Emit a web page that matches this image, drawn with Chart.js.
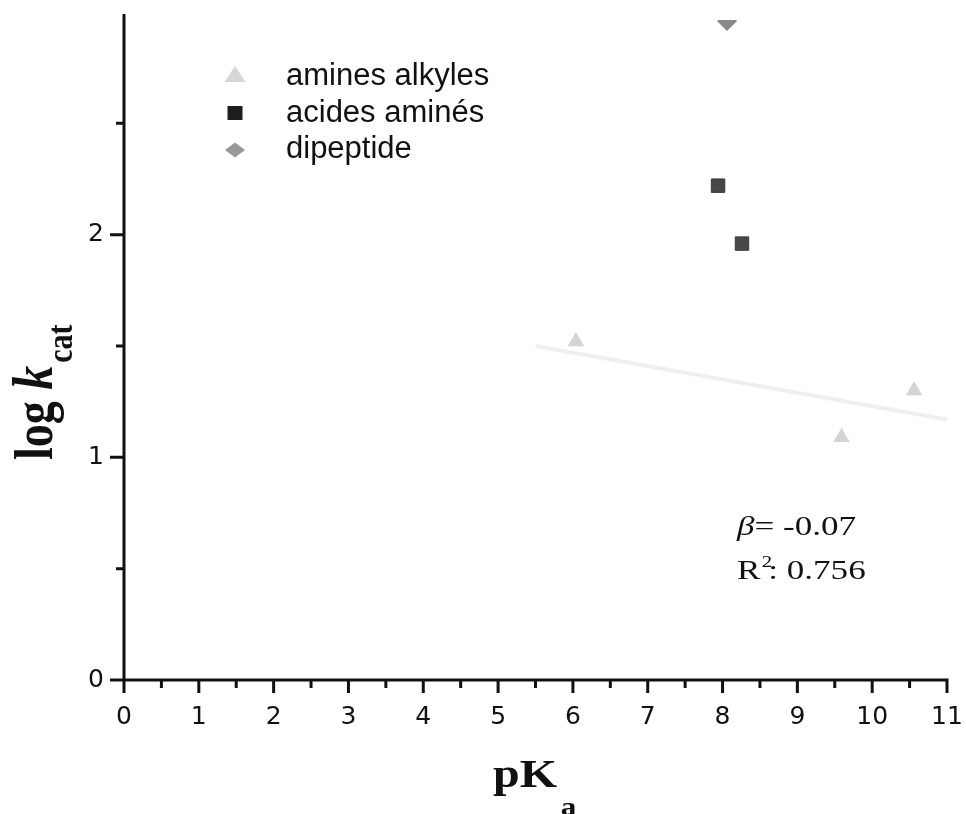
<!DOCTYPE html>
<html lang="fr"><head><meta charset="utf-8"><title>log kcat vs pKa</title>
<script src="https://cdn.jsdelivr.net/npm/chart.js@4.4.1/dist/chart.umd.min.js"></script>
<style>html,body{margin:0;padding:0;background:#fff;overflow:hidden}#box{position:relative;width:966px;height:814px}</style>
</head><body><div id="box"><canvas id="chart" width="966" height="814" style="width:966px;height:814px"></canvas></div>
<script>
// ---- data ----
const seriesNames = ['amines alkyles', 'acides aminés', 'dipeptide'];
const aminesPKa = [6.04, 9.59, 10.56];
const aminesLogKcat = [1.52, 1.09, 1.30];
const acidesPKa = [7.94, 8.26];
const acidesLogKcat = [2.22, 1.96];
const dipeptidePKa = [8.06];
const dipeptideLogKcat = [2.96];
const fitPKa = [5.5, 11.0];
const fitLogKcat = [1.50, 1.17];
const xTickValues = [0, 1, 2, 3, 4, 5, 6, 7, 8, 9, 10, 11];
const xMinorTicks = [0.5, 1.5, 2.5, 3.5, 4.5, 5.5, 6.5, 7.5, 8.5, 9.5, 10.5];
const yTickValues = [0, 1, 2];
const yMinorTicks = [0.5, 1.5, 2.5];
const statBeta = '-0.07';
const statR2 = '0.756';
const xTitle = ['pK', 'a'];
const yTitle = ['log ', 'k', 'cat'];

const pts = (xs, ys) => xs.map((v, i) => ({ x: v, y: ys[i] }));
const SX = 1.2; // horizontal stretch seen in the scanned figure

function runs(ctx, list) { // draws text runs starting at 0,0 (baseline)
  let x = 0;
  for (const r of list) {
    ctx.font = r.font;
    ctx.fillText(r.text, x + (r.dx || 0), r.dy || 0);
    x += ctx.measureText(r.text).width + (r.dx || 0);
  }
}

const axisPlugin = {
  id: 'axisPlugin',
  afterDatasetsDraw(chart) {
    const { ctx, chartArea: a, scales: { x, y } } = chart;
    ctx.save();
    ctx.strokeStyle = '#111';
    ctx.lineWidth = 3;
    ctx.beginPath();
    ctx.moveTo(a.left, y.getPixelForValue(3) + 2);
    ctx.lineTo(a.left, a.bottom + 1.5);
    ctx.moveTo(a.left - 1.5, a.bottom);
    ctx.lineTo(x.getPixelForValue(11) + 1.5, a.bottom);
    for (const v of xTickValues) { const p = x.getPixelForValue(v); ctx.moveTo(p, a.bottom); ctx.lineTo(p, a.bottom + 13); }
    for (const v of xMinorTicks) { const p = x.getPixelForValue(v); ctx.moveTo(p, a.bottom); ctx.lineTo(p, a.bottom + 8); }
    for (const v of yTickValues) { const p = y.getPixelForValue(v); ctx.moveTo(a.left, p); ctx.lineTo(a.left - 14, p); }
    for (const v of yMinorTicks) { const p = y.getPixelForValue(v); ctx.moveTo(a.left, p); ctx.lineTo(a.left - 8, p); }
    ctx.stroke();
    ctx.restore();
  }
};

const textPlugin = {
  id: 'textPlugin',
  afterDraw(chart) {
    const { ctx } = chart;
    ctx.save();
    ctx.fillStyle = '#111';
    ctx.textBaseline = 'alphabetic';
    ctx.textAlign = 'left';

    // legend
    const lx = 235, tx = 286;
    const mk = [75, 113, 150], bl = [85, 121.5, 158];
    ctx.fillStyle = '#d6d6d6';
    ctx.beginPath(); ctx.moveTo(lx, mk[0] - 9); ctx.lineTo(lx + 10.5, mk[0] + 7); ctx.lineTo(lx - 10.5, mk[0] + 7); ctx.closePath(); ctx.fill();
    ctx.fillStyle = '#1e1e1e';
    ctx.fillRect(lx - 7.5, mk[1] - 7, 15, 14);
    ctx.fillStyle = '#999';
    ctx.beginPath(); ctx.moveTo(lx, mk[2] - 7.5); ctx.lineTo(lx + 10, mk[2]); ctx.lineTo(lx, mk[2] + 7.5); ctx.lineTo(lx - 10, mk[2]); ctx.closePath(); ctx.fill();
    ctx.fillStyle = '#111';
    ctx.font = '31px "Liberation Sans", Arial, sans-serif';
    seriesNames.forEach((n, i) => ctx.fillText(n, tx, bl[i]));

    // statistics
    const SA = 1.3;
    ctx.save(); ctx.translate(737, 535); ctx.scale(SA, 1);
    runs(ctx, [
      { text: 'β', font: 'italic 27px "Liberation Serif", serif' },
      { text: '= ' + statBeta, font: '27px "Liberation Serif", serif' }
    ]);
    ctx.restore();
    ctx.save(); ctx.translate(737, 579); ctx.scale(SA, 1);
    runs(ctx, [
      { text: 'R', font: '27px "Liberation Serif", serif' },
      { text: '2', font: '16px "Liberation Serif", serif', dy: -12, dx: 1 },
      { text: ': ' + statR2, font: '27px "Liberation Serif", serif', dx: -3 }
    ]);
    ctx.restore();

    // x title
    ctx.save(); ctx.translate(493, 787); ctx.scale(SX, 1);
    runs(ctx, [
      { text: xTitle[0], font: 'bold 40px "Liberation Serif", serif' },
      { text: xTitle[1], font: 'bold 26px "Liberation Serif", serif', dy: 28, dx: 3 }
    ]);
    ctx.restore();

    // y title (rotated)
    ctx.save(); ctx.translate(52, 460); ctx.scale(SX, 1); ctx.rotate(-Math.PI / 2);
    runs(ctx, [
      { text: yTitle[0], font: 'bold 46px "Liberation Serif", serif' },
      { text: yTitle[1], font: 'bold italic 48px "Liberation Serif", serif' },
      { text: yTitle[2], font: 'bold 30px "Liberation Serif", serif', dy: 17, dx: 3 }
    ]);
    ctx.restore();
    ctx.restore();
  }
};

new Chart(document.getElementById('chart'), {
  type: 'scatter',
  data: {
    datasets: [
      { label: 'fit', data: pts(fitPKa, fitLogKcat), showLine: true, borderColor: '#efefef', borderWidth: 4, pointRadius: 0, order: 10 },
      { label: seriesNames[0], data: pts(aminesPKa, aminesLogKcat), pointStyle: 'triangle', pointRadius: 9.5, backgroundColor: '#d4d4d4', borderColor: '#d4d4d4', borderWidth: 0 },
      { label: seriesNames[1], data: pts(acidesPKa, acidesLogKcat), pointStyle: 'rect', pointRadius: 9.5, backgroundColor: '#474747', borderColor: '#3a3a3a', borderWidth: 1 },
      { label: seriesNames[2], data: pts(dipeptidePKa, dipeptideLogKcat), pointStyle: 'rectRot', pointRadius: 10, backgroundColor: '#8a8a8a', borderColor: '#8a8a8a', borderWidth: 0, clip: { left: 0, top: -8, right: 0, bottom: 0 } }
    ]
  },
  options: {
    responsive: false,
    animation: false,
    devicePixelRatio: 1,
    layout: { padding: { top: 12, right: 19, left: 0, bottom: 0 } },
    plugins: { legend: { display: false }, tooltip: { enabled: false } },
    scales: {
      x: {
        type: 'linear', min: 0, max: 11,
        afterBuildTicks: s => { s.ticks = xTickValues.map(v => ({ value: v })); },
        afterFit: s => { s.height = 134; s.paddingLeft = 0; s.paddingRight = 0; },
        grid: { display: false, drawTicks: false },
        border: { display: false },
        ticks: { font: { family: 'DejaVu Sans', size: 25 }, color: '#111', padding: 22, maxRotation: 0, autoSkip: false }
      },
      y: {
        type: 'linear', min: 0, max: 3,
        afterBuildTicks: s => { s.ticks = yTickValues.map(v => ({ value: v })); },
        afterFit: s => { s.width = 124; s.paddingTop = 0; s.paddingBottom = 0; },
        grid: { display: false, drawTicks: false },
        border: { display: false },
        ticks: { font: { family: 'DejaVu Sans', size: 25 }, color: '#111', padding: 20, autoSkip: false }
      }
    }
  },
  plugins: [axisPlugin, textPlugin]
});
</script>
</body></html>
